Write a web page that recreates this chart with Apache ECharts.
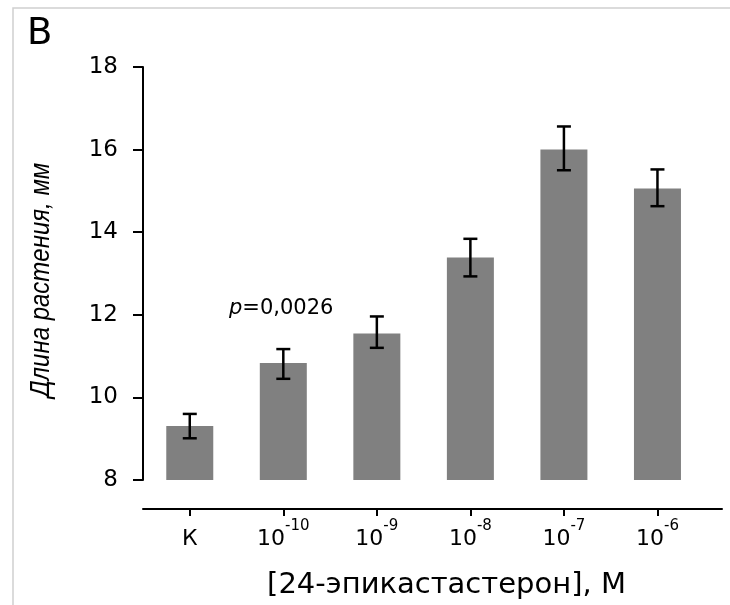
<!DOCTYPE html>
<html>
<head>
<meta charset="utf-8">
<script src="https://cdn.jsdelivr.net/npm/echarts@6/dist/echarts.min.js"></script>
<style>
  html, body { margin: 0; padding: 0; background: #fff; }
  #chart { width: 730px; height: 605px; }
</style>
</head>
<body>
<div id="chart"></div>
<script>
// категории (концентрации), подписи в виде основание^степень
var categories = ['К', '10^-10', '10^-9', '10^-8', '10^-7', '10^-6'];
// средняя длина растения, мм
var lengths = [9.31, 10.83, 11.55, 13.39, 16.0, 15.06];
// границы планок ошибок
var errLow = [9.01, 10.45, 11.20, 12.93, 15.50, 14.63];
var errHigh = [9.60, 11.17, 11.96, 13.84, 16.56, 15.52];
var yTicks = [8, 10, 12, 14, 16, 18];

var myChart = echarts.init(document.getElementById('chart'));

var barData = [];
var errData = [];
for (var i = 0; i < categories.length; i++) {
    barData.push([i, lengths[i]]);
    errData.push([i, errLow[i], errHigh[i]]);
}
var tickPos = categories.map(function (c, i) { return i; });

var font = 'DejaVu Sans, sans-serif';
var fontY = 'Liberation Sans, Arial, sans-serif';

var option = {
    animation: false,
    backgroundColor: '#fff',
    grid: { left: 143, right: 8, top: 67, bottom: 125, containLabel: false },
    xAxis: {
        type: 'value',
        min: -0.5,
        max: 5.69,
        offset: 29,
        splitLine: { show: false },
        axisLine: { show: true, onZero: false, lineStyle: { color: '#000', width: 2 } },
        axisTick: { show: true, customValues: tickPos, length: 7, lineStyle: { color: '#000', width: 2 } },
        axisLabel: {
            customValues: tickPos,
            margin: 10,
            formatter: function (v) {
                var s = categories[Math.round(v)];
                if (s.indexOf('^') < 0) return '{b|' + s + '}';
                var p = s.split('^');
                return '{b|' + p[0] + '}{s|' + p[1] + '}';
            },
            rich: {
                b: { fontFamily: font, fontSize: 22, color: '#000', lineHeight: 31, verticalAlign: 'bottom' },
                s: { fontFamily: font, fontSize: 15, color: '#000', lineHeight: 31, verticalAlign: 'top' }
            }
        },
        name: '[24-эпикастастерон], М',
        nameLocation: 'middle',
        nameGap: 62,
        nameTextStyle: { fontFamily: font, fontSize: 29, color: '#000', padding: [0, 0, 0, 28] }
    },
    yAxis: {
        type: 'value',
        min: 8,
        max: 18,
        interval: 2,
        splitLine: { show: false },
        axisLine: { show: true, onZero: false, lineStyle: { color: '#000', width: 2 } },
        axisTick: { show: true, length: 10, lineStyle: { color: '#000', width: 2 } },
        axisLabel: {
            margin: 25,
            fontFamily: font,
            fontSize: 23,
            color: '#000',
            formatter: function (v) { return yTicks.indexOf(v) >= 0 ? String(v) : ''; }
        }
    },
    series: [
        {
            type: 'bar',
            data: barData,
            barWidth: 47,
            itemStyle: { color: '#808080' }
        },
        {
            type: 'custom',
            data: errData,
            z: 10,
            renderItem: function (params, api) {
                var x = api.value(0);
                var lo = api.coord([x, api.value(1)]);
                var hi = api.coord([x, api.value(2)]);
                var cap = 7;
                var st = { stroke: '#000', lineWidth: 2.5 };
                return {
                    type: 'group',
                    children: [
                        { type: 'line', shape: { x1: lo[0], y1: lo[1], x2: hi[0], y2: hi[1] }, style: st },
                        { type: 'line', shape: { x1: lo[0] - cap, y1: lo[1], x2: lo[0] + cap, y2: lo[1] }, style: st },
                        { type: 'line', shape: { x1: hi[0] - cap, y1: hi[1], x2: hi[0] + cap, y2: hi[1] }, style: st }
                    ]
                };
            }
        }
    ],
    graphic: [
        {
            type: 'rect',
            shape: { x: 13, y: 8, width: 800, height: 700 },
            style: { fill: 'none', stroke: '#d0d0d0', lineWidth: 1.5 },
            silent: true
        },
        {
            type: 'text',
            left: 27,
            top: 16,
            style: { text: 'B', fontFamily: font, fontSize: 37, fill: '#000' }
        },
        {
            // подпись оси Y (растянута по горизонтали, как в оригинале)
            type: 'text',
            x: 41,
            y: 280,
            rotation: Math.PI / 2,
            scaleY: 1.15,
            style: {
                text: 'Длина растения, мм',
                fontFamily: fontY,
                fontSize: 24,
                fontStyle: 'italic',
                fill: '#000',
                align: 'center',
                verticalAlign: 'middle'
            }
        },
        {
            type: 'text',
            left: 229,
            top: 298,
            style: {
                text: '{i|p}{n|=0,0026}',
                rich: {
                    i: { fontFamily: font, fontSize: 21, fontStyle: 'italic', fill: '#000' },
                    n: { fontFamily: font, fontSize: 21, fill: '#000' }
                }
            }
        }
    ]
};

myChart.setOption(option);
</script>
</body>
</html>
